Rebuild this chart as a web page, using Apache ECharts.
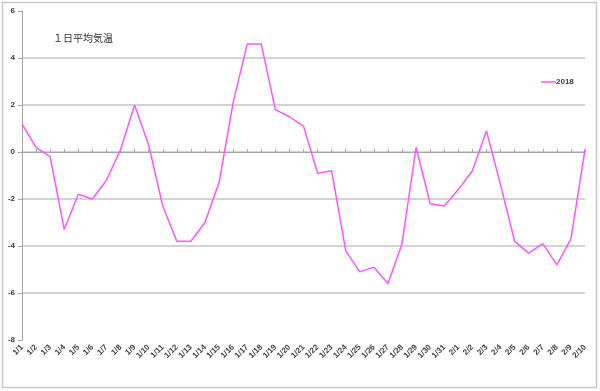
<!DOCTYPE html>
<html>
<head>
<meta charset="utf-8">
<script src="https://cdn.jsdelivr.net/npm/echarts@6/dist/echarts.min.js"></script>
<style>
  html, body { margin: 0; padding: 0; background: #fff; }
  #main { width: 600px; height: 391px; }
</style>
</head>
<body>
<div id="main"></div>
<script>
// 日付
var days = ['1/1','1/2','1/3','1/4','1/5','1/6','1/7','1/8','1/9','1/10',
  '1/11','1/12','1/13','1/14','1/15','1/16','1/17','1/18','1/19','1/20',
  '1/21','1/22','1/23','1/24','1/25','1/26','1/27','1/28','1/29','1/30',
  '1/31','2/1','2/2','2/3','2/4','2/5','2/6','2/7','2/8','2/9','2/10'];
// 1日平均気温 2018
var temp2018 = [1.2, 0.2, -0.2, -3.3, -1.8, -2.0, -1.2, 0.1, 2.0, 0.3,
  -2.3, -3.8, -3.8, -3.0, -1.3, 2.1, 4.6, 4.6, 1.8, 1.5,
  1.1, -0.9, -0.8, -4.2, -5.1, -4.9, -5.6, -3.9, 0.2, -2.2,
  -2.3, -1.6, -0.8, 0.9, -1.4, -3.8, -4.3, -3.9, -4.8, -3.7, 0.1];
var yMin = -8, yMax = 6, yStep = 2;

var chart = echarts.init(document.getElementById('main'));
var labelFont = { fontFamily: 'Liberation Sans', fontSize: 8, fontWeight: 'bold', color: '#404040' };

chart.setOption({
  animation: false,
  backgroundColor: '#fff',
  graphic: [{
    type: 'rect',
    shape: { x: 2.5, y: 2.5, width: 594, height: 385 },
    style: { fill: 'none', stroke: '#c8c8c8', lineWidth: 1.5 }
  }],
  title: {
    text: '１日平均気温',
    left: 48, top: 28,
    textStyle: { fontFamily: 'Noto Sans CJK JP', fontSize: 10, fontWeight: 'normal', color: '#333' }
  },
  legend: {
    data: ['2018'],
    left: 536, top: 73,
    icon: 'rect',
    itemWidth: 15, itemHeight: 1.5,
    itemGap: 2,
    textStyle: { fontFamily: 'Liberation Sans', fontSize: 8, fontWeight: 'bold', color: '#404040', padding: [0, 0, 0, -5] }
  },
  grid: { left: 22, right: 15, top: 11, bottom: 51, containLabel: false },
  xAxis: [{
    type: 'category',
    data: days,
    boundaryGap: false,
    position: 'bottom',
    axisLine: { show: false, onZero: false },
    axisTick: { show: false },
    axisLabel: Object.assign({ rotate: 45, margin: 6, interval: 0 }, labelFont)
  }, {
    type: 'category',
    data: days,
    boundaryGap: false,
    axisLine: { show: true, onZero: true, lineStyle: { color: '#a6a6a6', width: 1 } },
    axisTick: { show: true, inside: false, length: 3, alignWithLabel: true, interval: 0, lineStyle: { color: '#a6a6a6' } },
    axisLabel: { show: false }
  }],
  yAxis: {
    type: 'value',
    min: yMin, max: yMax, interval: yStep,
    axisLine: { show: true, lineStyle: { color: '#a6a6a6', width: 1 } },
    axisTick: { show: true, length: 4, lineStyle: { color: '#a6a6a6' } },
    axisLabel: Object.assign({ margin: 7 }, labelFont),
    splitLine: { show: true, showMinLine: false, showMaxLine: false, lineStyle: { color: '#c4c4c4', width: 1.5 } }
  },
  series: [{
    name: '2018',
    type: 'line',
    xAxisIndex: 0,
    data: temp2018,
    symbol: 'none',
    lineStyle: { color: '#ff55ff', width: 1.5 },
    itemStyle: { color: '#ff55ff' },
    z: 5
  }]
});
</script>
</body>
</html>
